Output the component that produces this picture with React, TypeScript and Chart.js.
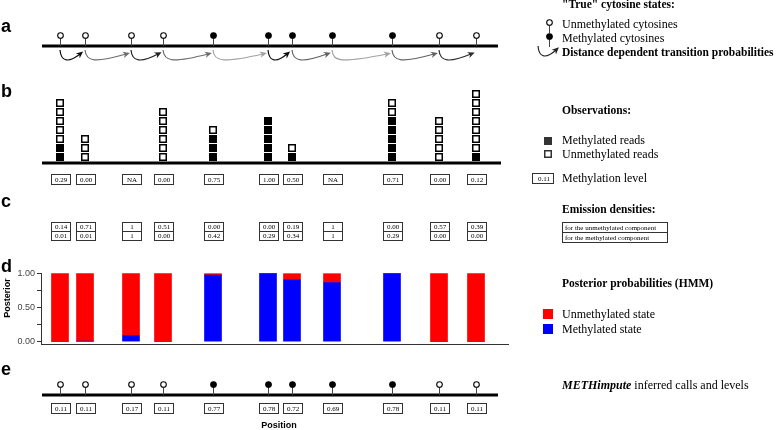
import React, { useEffect, useRef } from "react";
import { Chart, registerables } from "chart.js";

Chart.register(...registerables);

// ---------- data ----------
const positions = [19, 44, 90, 122, 172, 227, 251, 291, 351, 398, 435];
const trueStates = [0, 0, 0, 0, 1, 1, 1, 1, 1, 0, 0]; // 1 = methylated
const transitionWeights = [0.95, 0.5, 0.85, 0.5, 0.25, 0.95, 0.55, 0.25, 0.55, 0.8];
const methylatedReads = [2, 0, 0, 0, 3, 5, 1, 0, 5, 0, 1];
const unmethylatedReads = [5, 3, 0, 6, 1, 0, 1, 0, 2, 5, 7];
const methylationLevels: (number | null)[] = [0.29, 0.0, null, 0.0, 0.75, 1.0, 0.5, null, 0.71, 0.0, 0.12];
const emissionUnmethylated = [0.14, 0.71, 1, 0.51, 0.0, 0.0, 0.19, 1, 0.0, 0.57, 0.39];
const emissionMethylated = [0.01, 0.01, 1, 0.0, 0.42, 0.29, 0.34, 1, 0.29, 0.0, 0.0];
const posteriorMethylated = [0, 0.005, 0.09, 0, 0.98, 1, 0.91, 0.87, 1, 0, 0];
const inferredStates = [0, 0, 0, 0, 1, 1, 1, 1, 1, 0, 0];
const inferredLevels = [0.11, 0.11, 0.17, 0.11, 0.77, 0.78, 0.72, 0.69, 0.78, 0.11, 0.11];
const yTicks = [0, 0.25, 0.5, 0.75, 1];
const yTickLabels = ["0.00", "", "0.50", "", "1.00"];

const SERIF = "'Liberation Serif', 'Times New Roman', serif";
const SANS = "'Liberation Sans', Arial, sans-serif";

function hline(ctx: CanvasRenderingContext2D, x0: number, x1: number, y: number) {
  ctx.strokeStyle = "#000";
  ctx.lineWidth = 3;
  ctx.beginPath();
  ctx.moveTo(x0, y);
  ctx.lineTo(x1, y);
  ctx.stroke();
}

function lollipop(ctx: CanvasRenderingContext2D, x: number, yAxis: number, filled: boolean) {
  ctx.strokeStyle = "#444";
  ctx.lineWidth = 1;
  ctx.beginPath();
  ctx.moveTo(x + 0.5, yAxis - 8);
  ctx.lineTo(x + 0.5, yAxis);
  ctx.stroke();
  ctx.beginPath();
  ctx.arc(x + 0.5, yAxis - 10.5, 2.8, 0, Math.PI * 2);
  ctx.fillStyle = filled ? "#000" : "#fff";
  ctx.fill();
  ctx.strokeStyle = "#000";
  ctx.lineWidth = 1.1;
  ctx.stroke();
}

function arrow(ctx: CanvasRenderingContext2D, x0: number, x1: number, y: number, color: string) {
  const d = x1 - x0;
  const c1x = x0 + 1, c1y = y + 16;
  const c2x = x0 + Math.min(10, d * 0.35), c2y = y + 17;
  const ex = x1 - 5, ey = y + 8;
  ctx.strokeStyle = color;
  ctx.fillStyle = color;
  ctx.lineWidth = 1.2;
  ctx.beginPath();
  ctx.moveTo(x0, y + 4);
  ctx.bezierCurveTo(c1x, c1y, c2x, c2y, ex, ey);
  ctx.stroke();
  const ang = Math.atan2(ey - c2y, ex - c2x);
  const tipx = ex + Math.cos(ang) * 4, tipy = ey + Math.sin(ang) * 4;
  const bx = ex - Math.cos(ang) * 3, by = ey - Math.sin(ang) * 3;
  const px = -Math.sin(ang) * 3.2, py = Math.cos(ang) * 3.2;
  ctx.beginPath();
  ctx.moveTo(tipx, tipy);
  ctx.lineTo(bx + px, by + py);
  ctx.lineTo(ex - Math.cos(ang) * 1, ey - Math.sin(ang) * 1);
  ctx.lineTo(bx - px, by - py);
  ctx.closePath();
  ctx.fill();
}

function valueBox(ctx: CanvasRenderingContext2D, cx: number, top: number, w: number, h: number, text: string, font = `7px ${SERIF}`) {
  ctx.fillStyle = "#fff";
  ctx.fillRect(cx - w / 2, top, w, h);
  ctx.strokeStyle = "#333";
  ctx.lineWidth = 1;
  ctx.strokeRect(Math.round(cx - w / 2) + 0.5, top + 0.5, w, h);
  ctx.fillStyle = "#000";
  ctx.font = font;
  ctx.textAlign = "center";
  ctx.textBaseline = "middle";
  ctx.fillText(text, Math.round(cx) + 1, top + h / 2 + 1);
}

function square(ctx: CanvasRenderingContext2D, cx: number, top: number, filled: boolean) {
  ctx.fillStyle = "#000";
  ctx.fillRect(cx - 4, top, 8, 8);
  if (!filled) {
    ctx.fillStyle = "#fff";
    ctx.fillRect(cx - 2.5, top + 1.5, 5, 5);
  }
}

const panelsPlugin = {
  id: "panels",
  afterDraw(chart: any) {
    const ctx: CanvasRenderingContext2D = chart.ctx;
    const xs = chart.scales.x;
    const X = (v: number) => Math.round(xs.getPixelForValue(v));
    const lineL = X(1), lineR = X(457);
    ctx.save();

    // panel letters
    ctx.fillStyle = "#000";
    ctx.font = `bold 18px ${SANS}`;
    ctx.textAlign = "left";
    ctx.textBaseline = "alphabetic";
    const letters: [string, number][] = [["a", 32], ["b", 97], ["c", 207], ["d", 272], ["e", 375]];
    letters.forEach(([t, y]) => ctx.fillText(t, 1, y));

    // ----- panel a -----
    hline(ctx, lineL, lineR, 46);
    for (let i = 0; i < positions.length - 1; i++) {
      const g = Math.round(215 * (1 - transitionWeights[i]));
      arrow(ctx, X(positions[i]), X(positions[i + 1]), 46, `rgb(${g},${g},${g})`);
    }
    positions.forEach((p, i) => lollipop(ctx, X(p), 46, trueStates[i] === 1));

    // ----- panel b -----
    hline(ctx, lineL, X(460), 163);
    positions.forEach((p, i) => {
      const x = X(p);
      const m = methylatedReads[i];
      const u = unmethylatedReads[i];
      for (let k = 0; k < m + u; k++) square(ctx, x, 153 - k * 9, k < m);
      const lv = methylationLevels[i];
      valueBox(ctx, x, 174, 19, 10, lv === null ? "NA" : lv.toFixed(2));
    });

    // ----- panel c -----
    positions.forEach((p, i) => {
      const x = X(p);
      const na = methylationLevels[i] === null;
      const f = (v: number) => (na ? String(v) : v.toFixed(2));
      valueBox(ctx, x, 222, 19, 9, f(emissionUnmethylated[i]));
      valueBox(ctx, x, 231, 19, 9, f(emissionMethylated[i]));
    });

    // ----- panel e -----
    hline(ctx, lineL, lineR, 395);
    positions.forEach((p, i) => {
      const x = X(p);
      lollipop(ctx, x, 395, inferredStates[i] === 1);
      valueBox(ctx, x, 403, 19, 10, inferredLevels[i].toFixed(2));
    });

    // axis titles
    ctx.fillStyle = "#000";
    ctx.font = `bold 9px ${SANS}`;
    ctx.textAlign = "center";
    ctx.textBaseline = "alphabetic";
    ctx.fillText("Position", 279, 428);
    ctx.save();
    ctx.translate(10, 298);
    ctx.rotate(-Math.PI / 2);
    ctx.fillText("Posterior", 0, 0);
    ctx.restore();

    // ----- right-side legends -----
    const LX = 562;
    ctx.textAlign = "left";
    ctx.textBaseline = "alphabetic";
    ctx.fillStyle = "#000";
    const bold = `bold 11.5px ${SERIF}`;
    const reg = `12px ${SERIF}`;

    ctx.font = bold;
    ctx.fillText("\"True\" cytosine states:", LX, 8);
    ctx.font = reg;
    ctx.fillText("Unmethylated cytosines", LX, 28);
    ctx.fillText("Methylated cytosines", LX, 42);
    lollipop(ctx, 549, 33, false);
    lollipop(ctx, 549, 47, true);
    arrow(ctx, 538, 561, 42, "#222");
    ctx.fillStyle = "#000";
    ctx.font = bold;
    ctx.fillText("Distance dependent transition probabilities", LX, 56);

    ctx.fillText("Observations:", LX, 114);
    ctx.font = reg;
    ctx.fillText("Methylated reads", LX, 144);
    ctx.fillText("Unmethylated reads", LX, 158);
    ctx.fillStyle = "#333";
    ctx.fillRect(544, 137, 8, 8);
    ctx.fillStyle = "#333";
    ctx.fillRect(544, 150, 8, 8);
    ctx.fillStyle = "#fff";
    ctx.fillRect(545.5, 151.5, 5, 5);
    valueBox(ctx, 542.5, 173, 21, 10, "0.11");
    ctx.fillStyle = "#000";
    ctx.font = reg;
    ctx.textAlign = "left";
    ctx.textBaseline = "alphabetic";
    ctx.fillText("Methylation level", LX, 182);

    ctx.font = bold;
    ctx.fillText("Emission densities:", LX, 213);
    ctx.strokeStyle = "#333";
    ctx.lineWidth = 1;
    ctx.strokeRect(562.5, 222.5, 105, 10);
    ctx.strokeRect(562.5, 232.5, 105, 10);
    ctx.font = `7px ${SERIF}`;
    ctx.textBaseline = "middle";
    ctx.fillText("for the unmethylated component", 565, 228);
    ctx.fillText("for the methylated component", 565, 238);
    ctx.textBaseline = "alphabetic";

    ctx.font = bold;
    ctx.fillText("Posterior probabilities (HMM)", LX, 287);
    ctx.fillStyle = "#ff0000";
    ctx.fillRect(543, 309, 10, 10);
    ctx.fillStyle = "#0000ff";
    ctx.fillRect(543, 324, 10, 10);
    ctx.fillStyle = "#000";
    ctx.font = reg;
    ctx.fillText("Unmethylated state", LX, 318);
    ctx.fillText("Methylated state", LX, 333);

    ctx.font = `bold italic 12px ${SERIF}`;
    const w = ctx.measureText("METHimpute").width;
    ctx.fillText("METHimpute", LX, 389);
    ctx.font = reg;
    ctx.fillText(" inferred calls and levels", LX + w, 389);

    ctx.restore();
  },
};

export default function App() {
  const ref = useRef<HTMLCanvasElement | null>(null);
  useEffect(() => {
    if (!ref.current) return;
    const chart = new Chart(ref.current, {
      type: "bar",
      data: {
        datasets: [
          {
            label: "Methylated state",
            data: positions.map((p, i) => ({ x: p, y: posteriorMethylated[i] })),
            backgroundColor: "#0000ff",
            borderWidth: 0,
            barThickness: 17,
          },
          {
            label: "Unmethylated state",
            data: positions.map((p, i) => ({ x: p, y: 1 - posteriorMethylated[i] })),
            backgroundColor: "#ff0000",
            borderWidth: 0,
            barThickness: 17,
          },
        ],
      },
      options: {
        responsive: false,
        maintainAspectRatio: false,
        animation: false,
        devicePixelRatio: 1,
        layout: { padding: { top: 273, right: 270, bottom: 86, left: 0 } },
        plugins: { legend: { display: false }, tooltip: { enabled: false } },
        scales: {
          x: {
            type: "linear",
            stacked: true,
            min: 0,
            max: 467,
            offset: false,
            ticks: { display: false },
            grid: { display: true, drawOnChartArea: false, drawTicks: false, offset: false },
            border: { display: true, color: "#333", width: 1 },
            afterFit: (s: any) => {
              s.height = 0;
            },
          },
          y: {
            stacked: true,
            min: -0.035,
            max: 1.01,
            afterBuildTicks: (s: any) => {
              s.ticks = yTicks.map((v) => ({ value: v }));
            },
            ticks: {
              autoSkip: false,
              padding: 2,
              color: "#444",
              font: { family: SANS, size: 9 },
              callback: (_v: any, idx: number) => yTickLabels[idx],
            },
            grid: { display: true, drawOnChartArea: false, drawTicks: true, tickLength: 4, color: "#333" },
            border: { display: true, color: "#333", width: 1 },
            afterFit: (s: any) => {
              s.width = 41;
            },
          },
        },
      },
      plugins: [panelsPlugin],
    } as any);
    return () => chart.destroy();
  }, []);
  return (
    <div style={{ position: "absolute", left: 0, top: 0, width: 778, height: 430, background: "#fff" }}>
      <canvas ref={ref} width={778} height={430} style={{ display: "block" }} />
    </div>
  );
}
